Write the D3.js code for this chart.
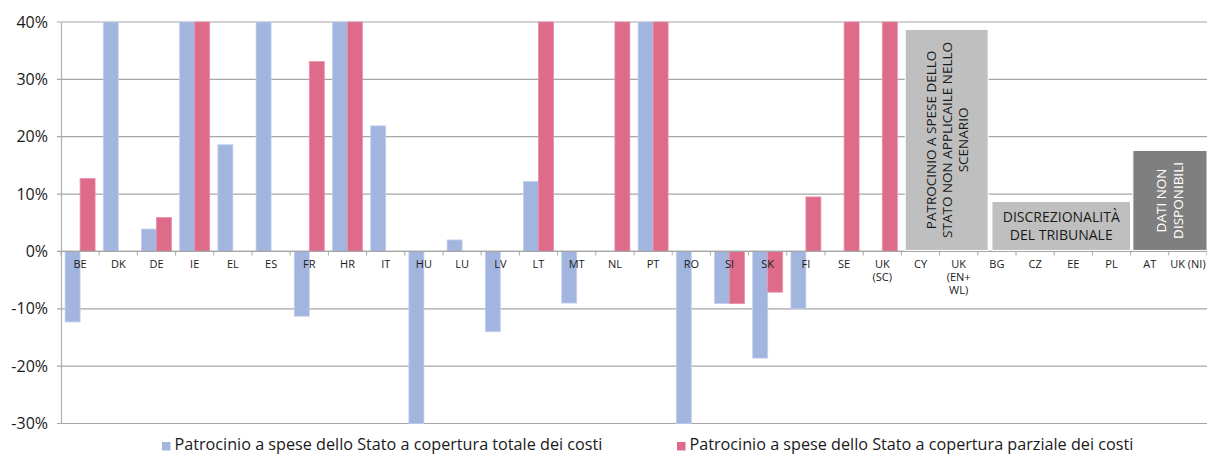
<!DOCTYPE html>
<html>
<head>
<meta charset="utf-8">
<script src="https://cdn.jsdelivr.net/npm/d3@7"></script>
<style>
  html, body { margin: 0; padding: 0; background: #fff; }
  svg { display: block; font-family: "Open Sans", "Noto Sans", sans-serif; }
</style>
</head>
<body>
<svg id="chart" width="1207" height="454"></svg>
<script>
// Paesi (etichette su più righe separate da "\n")
const categories = [
  "BE", "DK", "DE", "IE", "EL", "ES", "FR", "HR", "IT", "HU",
  "LU", "LV", "LT", "MT", "NL", "PT", "RO", "SI", "SK", "FI",
  "SE", "UK\n(SC)", "CY", "UK\n(EN+\nWL)", "BG", "CZ", "EE", "PL", "AT", "UK (NI)"
];

// Variazione (%) — copertura totale dei costi
const totale = [
  -12.3, 40, 3.9, 40, 18.6, 40, -11.3, 40, 21.9, -30,
  2.0, -14.0, 12.2, -9.0, null, 40, -30, -9.1, -18.6, -10.0,
  null, null, null, null, null, null, null, null, null, null
];

// Variazione (%) — copertura parziale dei costi
const parziale = [
  12.7, null, 5.9, 40, null, null, 33.1, 40, null, null,
  null, null, 40, null, 40, 40, null, -9.1, -7.1, 9.5,
  40, 40, null, null, null, null, null, null, null, null
];

const seriesNames = [
  "Patrocinio a spese dello Stato a copertura totale dei costi",
  "Patrocinio a spese dello Stato a copertura parziale dei costi"
];

const yTicks = [-30, -20, -10, 0, 10, 20, 30, 40];

// Riquadri di nota sui paesi senza dati
const noteLabels = [
  ["PATROCINIO A SPESE DELLO", "STATO NON APPLICAILE NELLO", "SCENARIO"],
  ["DISCREZIONALITÀ", "DEL TRIBUNALE"],
  ["DATI NON", "DISPONIBILI"]
];
const noteTops = [38.7, 8.7, 17.6];

const colors = ["#a2b5df", "#de6b8a"];

const svg = d3.select("#chart");
const W = 1207, H = 454;
const margin = { top: 22, right: 0, bottom: 30.5, left: 61 };

const x = d3.scaleBand()
  .domain(categories)
  .range([margin.left, W - margin.right])
  .paddingInner(0.215)
  .paddingOuter(0.1075);

const xi = d3.scaleLinear().domain([0, categories.length]).range([margin.left, W - margin.right]);

const xs = d3.scaleBand()
  .domain([0, 1])
  .range([0, x.bandwidth()]);

const y = d3.scaleLinear().domain([-30, 40]).range([H - margin.bottom, margin.top]);

// Griglia orizzontale
svg.append("g")
  .selectAll("line")
  .data(yTicks)
  .join("line")
  .attr("x1", margin.left - 4)
  .attr("x2", W - margin.right)
  .attr("y1", d => y(d))
  .attr("y2", d => y(d))
  .attr("stroke", "#a6a6a6")
  .attr("stroke-width", 1.2);

// Asse y
const yAxis = svg.append("g")
  .attr("transform", `translate(${margin.left},0)`)
  .call(d3.axisLeft(y).tickValues(yTicks).tickSize(0).tickPadding(13).tickFormat(d => d + "%"));
yAxis.select(".domain").attr("stroke", "#b0b0b0").attr("stroke-width", 1.2);
yAxis.selectAll("text")
  .attr("font-size", 16)
  .attr("fill", "#1a1a1a")
  .attr("font-family", "Open Sans");

// Barre
const series = [totale, parziale];
series.forEach((vals, s) => {
  svg.append("g")
    .selectAll("rect")
    .data(categories.map((c, i) => ({ c, v: vals[i] })).filter(d => d.v != null))
    .join("rect")
    .attr("x", d => x(d.c) + xs(s))
    .attr("width", xs.bandwidth())
    .attr("y", d => y(Math.max(0, d.v)))
    .attr("height", d => Math.abs(y(d.v) - y(0)))
    .attr("fill", colors[s])
    .attr("stroke", s === 0 ? "#c3cfec" : "#e891a8")
    .attr("stroke-width", 0.8);
});

// Asse x (tacche tra le categorie)
const xAxisG = svg.append("g");
xAxisG.append("line")
  .attr("x1", margin.left).attr("x2", W - margin.right)
  .attr("y1", y(0)).attr("y2", y(0))
  .attr("stroke", "#a6a6a6").attr("stroke-width", 1.2);
xAxisG.selectAll("line.tick")
  .data(d3.range(categories.length + 1))
  .join("line")
  .attr("class", "tick")
  .attr("x1", d => xi(d)).attr("x2", d => xi(d))
  .attr("y1", y(0)).attr("y2", y(0) + 4)
  .attr("stroke", "#a6a6a6");

const catText = xAxisG.selectAll("text")
  .data(categories)
  .join("text")
  .attr("text-anchor", "middle")
  .attr("font-size", 11)
  .attr("fill", "#1a1a1a")
  .attr("transform", d => `translate(${x(d) + x.bandwidth() / 2},${y(0) + 17})`);
catText.selectAll("tspan")
  .data(d => d.split("\n"))
  .join("tspan")
  .attr("x", 0)
  .attr("dy", (d, i) => i === 0 ? 0 : 13)
  .text(d => d);

// Riquadri di nota
const notes = [
  { from: 22.1, to: 24.27, fill: "#bfbfbf", text: "#1a1a1a", rotate: true, size: 13.5, lh: 16 },
  { from: 24.37, to: 28.0, fill: "#bfbfbf", text: "#1a1a1a", rotate: false, size: 14, lh: 17.5 },
  { from: 28.06, to: 30.0, fill: "#7f7f7f", text: "#ffffff", rotate: true, size: 13.5, lh: 17 }
];
notes.forEach((n, k) => {
  const x0 = xi(n.from), x1 = xi(n.to);
  const y0 = y(noteTops[k]), y1 = y(0) - 1;
  const g = svg.append("g");
  g.append("rect")
    .attr("x", x0).attr("y", y0)
    .attr("width", x1 - x0).attr("height", y1 - y0)
    .attr("fill", n.fill)
    .attr("stroke", "#ffffff").attr("stroke-width", 1);
  const cx = (x0 + x1) / 2, cy = (y0 + y1) / 2;
  const lines = noteLabels[k];
  const t = g.append("text")
    .attr("text-anchor", "middle")
    .attr("font-size", n.size)
    .attr("fill", n.text)
    .attr("transform", `translate(${cx},${cy}) rotate(${n.rotate ? -90 : 0})`);
  t.selectAll("tspan")
    .data(lines)
    .join("tspan")
    .attr("x", 0)
    .attr("y", (d, i) => (i - (lines.length - 1) / 2) * n.lh)
    .attr("dy", "0.36em")
    .text(d => d);
});

// Legenda
const legendX = [162, 677];
const legend = svg.append("g");
seriesNames.forEach((name, s) => {
  legend.append("rect")
    .attr("x", legendX[s]).attr("y", 442)
    .attr("width", 8.5).attr("height", 8.5)
    .attr("fill", colors[s]);
  legend.append("text")
    .attr("x", legendX[s] + 12.5).attr("y", 450)
    .attr("font-size", 16.2)
    .attr("fill", "#1a1a1a")
    .text(name);
});
</script>
</body>
</html>
